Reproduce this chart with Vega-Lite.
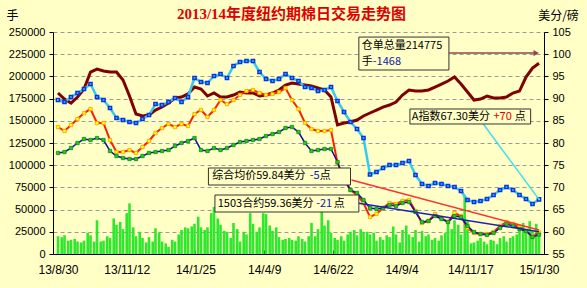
{
"$schema": "https://vega.github.io/schema/vega-lite/v6.json",
"width": 491, "height": 222,
"autosize": {"type": "none"},
"padding": {"left": 53, "top": 32, "right": 43, "bottom": 34},
"background": "#FFFFC6",
"title": {"text": "2013/14年度纽约期棉日交易走势图", "color": "#E00000", "font": "Liberation Serif, Noto Sans CJK SC", "fontWeight": "bold", "fontSize": 15, "anchor": "middle", "offset": 8, "dx": -7, "dy": 21},
"datasets": {
"w": [
{"d":"2013-08-30","wr":181300,"ai":89.68,"avg":83.60,"c":77.75},
{"d":"2013-09-06","wr":174500,"ai":89.23,"avg":82.70,"c":77.97},
{"d":"2013-09-13","wr":170000,"ai":90.36,"avg":84.05,"c":78.87},
{"d":"2013-09-20","wr":176800,"ai":91.26,"avg":85.40,"c":80.00},
{"d":"2013-09-27","wr":185800,"ai":92.16,"avg":86.75,"c":80.90},
{"d":"2013-10-04","wr":204900,"ai":93.28,"avg":87.65,"c":80.67},
{"d":"2013-10-11","wr":208300,"ai":90.36,"avg":84.50,"c":81.12},
{"d":"2013-10-18","wr":206100,"ai":89.68,"avg":84.50,"c":80.67},
{"d":"2013-10-25","wr":204900,"ai":87.88,"avg":80.67,"c":78.20},
{"d":"2013-11-01","wr":204900,"ai":85.63,"avg":77.97,"c":77.07},
{"d":"2013-11-08","wr":195900,"ai":85.18,"avg":77.97,"c":76.62},
{"d":"2013-11-15","wr":177900,"ai":84.73,"avg":78.42,"c":76.39},
{"d":"2013-11-22","wr":157600,"ai":84.50,"avg":77.75,"c":76.39},
{"d":"2013-11-29","wr":155400,"ai":85.40,"avg":79.10,"c":77.07},
{"d":"2013-12-06","wr":156500,"ai":86.30,"avg":80.45,"c":77.75},
{"d":"2013-12-13","wr":162100,"ai":88.78,"avg":82.25,"c":77.97},
{"d":"2013-12-20","wr":165500,"ai":88.55,"avg":83.38,"c":78.20},
{"d":"2013-12-27","wr":170000,"ai":89.23,"avg":84.28,"c":78.42},
{"d":"2014-01-03","wr":175700,"ai":90.13,"avg":83.60,"c":79.32},
{"d":"2014-01-10","wr":176800,"ai":89.23,"avg":84.28,"c":80.00},
{"d":"2014-01-17","wr":180200,"ai":90.36,"avg":83.83,"c":80.45},
{"d":"2014-01-24","wr":188100,"ai":94.64,"avg":86.53,"c":81.12},
{"d":"2014-01-31","wr":185800,"ai":93.73,"avg":87.43,"c":78.42},
{"d":"2014-02-07","wr":177900,"ai":93.51,"avg":85.85,"c":78.20},
{"d":"2014-02-14","wr":181300,"ai":95.09,"avg":87.43,"c":78.87},
{"d":"2014-02-21","wr":176800,"ai":95.54,"avg":89.68,"c":78.42},
{"d":"2014-02-28","wr":176800,"ai":94.64,"avg":88.78,"c":78.87},
{"d":"2014-03-07","wr":179000,"ai":97.34,"avg":89.68,"c":79.55},
{"d":"2014-03-14","wr":182400,"ai":98.24,"avg":90.81,"c":80.22},
{"d":"2014-03-21","wr":181300,"ai":98.46,"avg":91.71,"c":80.45},
{"d":"2014-03-28","wr":181300,"ai":98.46,"avg":91.93,"c":80.67},
{"d":"2014-04-04","wr":177900,"ai":95.99,"avg":91.26,"c":80.90},
{"d":"2014-04-11","wr":179000,"ai":94.41,"avg":90.81,"c":81.57},
{"d":"2014-04-18","wr":181300,"ai":93.96,"avg":91.03,"c":82.02},
{"d":"2014-04-25","wr":184700,"ai":94.41,"avg":91.48,"c":82.47},
{"d":"2014-05-02","wr":190300,"ai":95.54,"avg":92.38,"c":83.38},
{"d":"2014-05-09","wr":192500,"ai":94.64,"avg":89.68,"c":83.60},
{"d":"2014-05-16","wr":191400,"ai":93.96,"avg":87.65,"c":82.47},
{"d":"2014-05-23","wr":190300,"ai":92.61,"avg":84.50,"c":80.00},
{"d":"2014-05-30","wr":189200,"ai":92.38,"avg":83.15,"c":78.20},
{"d":"2014-06-06","wr":186900,"ai":91.71,"avg":82.70,"c":78.42},
{"d":"2014-06-13","wr":184700,"ai":91.93,"avg":82.70,"c":78.65},
{"d":"2014-06-20","wr":176800,"ai":92.61,"avg":82.92,"c":78.65},
{"d":"2014-06-27","wr":145300,"ai":89.46,"avg":75.49,"c":75.72},
{"d":"2014-07-04","wr":147500,"ai":86.98,"avg":72.12,"c":71.66},
{"d":"2014-07-11","wr":148600,"ai":84.73,"avg":69.41,"c":69.41},
{"d":"2014-07-18","wr":150900,"ai":83.15,"avg":68.29,"c":68.74},
{"d":"2014-07-25","wr":155400,"ai":81.12,"avg":66.49,"c":67.16},
{"d":"2014-08-01","wr":158800,"ai":72.90,"avg":63.33,"c":65.36},
{"d":"2014-08-08","wr":162100,"ai":73.47,"avg":64.01,"c":65.13},
{"d":"2014-08-15","wr":165500,"ai":74.37,"avg":65.36,"c":65.36},
{"d":"2014-08-22","wr":167800,"ai":75.04,"avg":66.49,"c":66.03},
{"d":"2014-08-29","wr":171100,"ai":75.04,"avg":66.26,"c":65.81},
{"d":"2014-09-05","wr":179000,"ai":75.49,"avg":66.94,"c":66.49},
{"d":"2014-09-12","wr":184700,"ai":75.94,"avg":67.16,"c":66.71},
{"d":"2014-09-19","wr":183500,"ai":72.79,"avg":64.68,"c":64.46},
{"d":"2014-09-26","wr":183500,"ai":70.76,"avg":61.98,"c":62.21},
{"d":"2014-10-03","wr":184700,"ai":70.31,"avg":62.43,"c":62.43},
{"d":"2014-10-10","wr":188000,"ai":70.99,"avg":64.01,"c":63.56},
{"d":"2014-10-17","wr":191400,"ai":70.76,"avg":63.11,"c":62.88},
{"d":"2014-10-24","wr":194800,"ai":70.31,"avg":62.21,"c":62.21},
{"d":"2014-10-31","wr":199300,"ai":70.09,"avg":64.23,"c":63.56},
{"d":"2014-11-07","wr":191400,"ai":69.19,"avg":63.56,"c":63.33},
{"d":"2014-11-14","wr":182400,"ai":67.16,"avg":60.86,"c":61.31},
{"d":"2014-11-21","wr":173400,"ai":66.71,"avg":59.73,"c":59.95},
{"d":"2014-11-28","wr":174500,"ai":66.94,"avg":59.50,"c":59.50},
{"d":"2014-12-05","wr":177900,"ai":67.39,"avg":59.50,"c":59.28},
{"d":"2014-12-12","wr":175700,"ai":68.29,"avg":59.95,"c":59.73},
{"d":"2014-12-19","wr":175700,"ai":69.41,"avg":61.31,"c":60.86},
{"d":"2014-12-26","wr":176800,"ai":70.09,"avg":62.21,"c":61.76},
{"d":"2015-01-02","wr":181300,"ai":69.41,"avg":61.76,"c":61.31},
{"d":"2015-01-09","wr":183500,"ai":68.29,"avg":61.08,"c":60.63},
{"d":"2015-01-16","wr":199300,"ai":67.39,"avg":60.18,"c":60.18},
{"d":"2015-01-23","wr":209400,"ai":66.26,"avg":59.05,"c":58.83},
{"d":"2015-01-30","wr":214775,"ai":67.30,"avg":59.84,"c":59.36}
],
"v": [
{"d":"2013-08-30","vol":20000},{"d":"2013-09-03","vol":19000},{"d":"2013-09-06","vol":21000},{"d":"2013-09-10","vol":15000},
{"d":"2013-09-13","vol":16000},{"d":"2013-09-17","vol":17000},{"d":"2013-09-20","vol":14000},{"d":"2013-09-24","vol":13000},
{"d":"2013-09-27","vol":15000},{"d":"2013-10-01","vol":24000},{"d":"2013-10-04","vol":21000},{"d":"2013-10-08","vol":14000},
{"d":"2013-10-11","vol":38000},{"d":"2013-10-15","vol":14000},{"d":"2013-10-18","vol":15000},{"d":"2013-10-22","vol":20000},
{"d":"2013-10-25","vol":18000},{"d":"2013-10-29","vol":40000},{"d":"2013-11-01","vol":33000},{"d":"2013-11-05","vol":36000},
{"d":"2013-11-08","vol":28000},{"d":"2013-11-12","vol":46000},{"d":"2013-11-15","vol":57000},{"d":"2013-11-19","vol":30000},
{"d":"2013-11-22","vol":20000},{"d":"2013-11-26","vol":25000},{"d":"2013-11-29","vol":18000},{"d":"2013-12-03","vol":13000},
{"d":"2013-12-06","vol":19000},{"d":"2013-12-10","vol":14000},{"d":"2013-12-13","vol":29000},{"d":"2013-12-17","vol":24000},
{"d":"2013-12-20","vol":14000},{"d":"2013-12-24","vol":12000},{"d":"2013-12-27","vol":8000},{"d":"2013-12-31","vol":16000},
{"d":"2014-01-03","vol":14000},{"d":"2014-01-07","vol":22000},{"d":"2014-01-10","vol":27000},{"d":"2014-01-14","vol":30000},
{"d":"2014-01-17","vol":29000},{"d":"2014-01-21","vol":31000},{"d":"2014-01-24","vol":34000},{"d":"2014-01-28","vol":42000},
{"d":"2014-01-31","vol":30000},{"d":"2014-02-04","vol":27000},{"d":"2014-02-07","vol":30000},{"d":"2014-02-11","vol":46000},
{"d":"2014-02-14","vol":53000},{"d":"2014-02-18","vol":40000},{"d":"2014-02-21","vol":33000},{"d":"2014-02-25","vol":26000},
{"d":"2014-02-28","vol":25000},{"d":"2014-03-04","vol":18000},{"d":"2014-03-07","vol":35000},{"d":"2014-03-11","vol":28000},
{"d":"2014-03-14","vol":14000},{"d":"2014-03-18","vol":25000},{"d":"2014-03-21","vol":22000},{"d":"2014-03-25","vol":46000},
{"d":"2014-03-28","vol":34000},{"d":"2014-04-01","vol":25000},{"d":"2014-04-04","vol":30000},{"d":"2014-04-08","vol":46000},
{"d":"2014-04-11","vol":45000},{"d":"2014-04-15","vol":32000},{"d":"2014-04-18","vol":26000},{"d":"2014-04-22","vol":30000},
{"d":"2014-04-25","vol":19000},{"d":"2014-04-29","vol":16000},{"d":"2014-05-02","vol":17000},{"d":"2014-05-06","vol":18000},
{"d":"2014-05-09","vol":16000},{"d":"2014-05-13","vol":15000},{"d":"2014-05-16","vol":20000},{"d":"2014-05-20","vol":17000},
{"d":"2014-05-23","vol":14000},{"d":"2014-05-27","vol":20000},{"d":"2014-05-30","vol":35000},{"d":"2014-06-03","vol":20000},
{"d":"2014-06-06","vol":28000},{"d":"2014-06-10","vol":48000},{"d":"2014-06-13","vol":32000},{"d":"2014-06-17","vol":38000},
{"d":"2014-06-20","vol":24000},{"d":"2014-06-24","vol":18000},{"d":"2014-06-27","vol":16000},{"d":"2014-07-01","vol":20000},
{"d":"2014-07-04","vol":15000},{"d":"2014-07-08","vol":22000},{"d":"2014-07-11","vol":25000},{"d":"2014-07-15","vol":27000},
{"d":"2014-07-18","vol":21000},{"d":"2014-07-22","vol":28000},{"d":"2014-07-25","vol":25000},{"d":"2014-07-29","vol":25000},
{"d":"2014-08-01","vol":22000},{"d":"2014-08-05","vol":24000},{"d":"2014-08-08","vol":15000},{"d":"2014-08-12","vol":19000},
{"d":"2014-08-15","vol":16000},{"d":"2014-08-19","vol":21000},{"d":"2014-08-22","vol":19000},{"d":"2014-08-26","vol":31000},
{"d":"2014-08-29","vol":22000},{"d":"2014-09-02","vol":13000},{"d":"2014-09-05","vol":27000},{"d":"2014-09-09","vol":32000},
{"d":"2014-09-12","vol":22000},{"d":"2014-09-16","vol":19000},{"d":"2014-09-19","vol":27000},{"d":"2014-09-23","vol":14000},
{"d":"2014-09-26","vol":26000},{"d":"2014-09-30","vol":20000},{"d":"2014-10-03","vol":22000},{"d":"2014-10-07","vol":16000},
{"d":"2014-10-10","vol":18000},{"d":"2014-10-14","vol":15000},{"d":"2014-10-17","vol":21000},{"d":"2014-10-21","vol":24000},
{"d":"2014-10-24","vol":36000},{"d":"2014-10-28","vol":28000},{"d":"2014-10-31","vol":38000},{"d":"2014-11-04","vol":33000},
{"d":"2014-11-07","vol":22000},{"d":"2014-11-11","vol":66000},{"d":"2014-11-14","vol":38000},{"d":"2014-11-18","vol":12000},
{"d":"2014-11-21","vol":13000},{"d":"2014-11-25","vol":15000},{"d":"2014-11-28","vol":18000},{"d":"2014-12-02","vol":14000},
{"d":"2014-12-05","vol":11000},{"d":"2014-12-09","vol":16000},{"d":"2014-12-12","vol":15000},{"d":"2014-12-16","vol":11000},
{"d":"2014-12-19","vol":18000},{"d":"2014-12-23","vol":20000},{"d":"2014-12-26","vol":14000},{"d":"2014-12-30","vol":18000},
{"d":"2015-01-02","vol":20000},{"d":"2015-01-06","vol":22000},{"d":"2015-01-09","vol":28000},{"d":"2015-01-13","vol":35000},
{"d":"2015-01-16","vol":24000},{"d":"2015-01-20","vol":37000},{"d":"2015-01-23","vol":26000},{"d":"2015-01-27","vol":34000},
{"d":"2015-01-30","vol":20000}
],
"box": [
{"d":"2014-07-20","d2":"2014-10-25","v":244300,"v2":207200},
{"d":"2014-09-13","d2":"2015-01-21","v":163300,"v2":146400},
{"d":"2014-02-08","d2":"2014-07-11","v":96840,"v2":77700},
{"d":"2014-02-15","d2":"2014-07-20","v":66430,"v2":47290}
],
"ann": [
{"d":"2014-07-23","v":234200,"t":"仓单总量214775","k":"n"},
{"d":"2014-07-23","v":216200,"t":"手","k":"n"},
{"d":"2014-08-04","v":216200,"t":"-1468","k":"down"},
{"d":"2014-09-15","v":154800,"t":"A指数67.30美分","k":"n"},
{"d":"2014-12-12","v":154800,"t":"+70","k":"up"},
{"d":"2015-01-04","v":154800,"t":"点","k":"n"},
{"d":"2014-02-12","v":87300,"t":"综合均价59.84美分","k":"n"},
{"d":"2014-05-28","v":87300,"t":"-5","k":"down"},
{"d":"2014-06-08","v":87300,"t":"点","k":"n"},
{"d":"2014-02-18","v":56860,"t":"1503合约59.36美分","k":"n"},
{"d":"2014-06-04","v":56860,"t":"-21","k":"down"},
{"d":"2014-06-23","v":56860,"t":"点","k":"n"}
]
},
"encoding": {
"x": {"field": "d", "type": "temporal",
 "scale": {"type": "utc", "domain": [{"year":2013,"month":8,"date":30,"utc":true},{"year":2015,"month":1,"date":30,"utc":true}]},
 "axis": {"title": null, "labelExpr": "utcFormat(datum.value, '%y/%-m/%-d')", "grid": false, "labelOverlap": false, "labelFlush": false,
  "values": [{"year":2013,"month":8,"date":30,"utc":true},{"year":2013,"month":11,"date":12,"utc":true},{"year":2014,"month":1,"date":25,"utc":true},{"year":2014,"month":4,"date":9,"utc":true},{"year":2014,"month":6,"date":22,"utc":true},{"year":2014,"month":9,"date":4,"utc":true},{"year":2014,"month":11,"date":17,"utc":true},{"year":2015,"month":1,"date":30,"utc":true}]}}
},
"layer": [
{"layer": [
 {"data": {"name": "v"}, "mark": {"type": "bar", "color": "#2EE82E", "width": 2.6, "clip": true},
  "encoding": {"y": {"field": "vol", "type": "quantitative", "scale": {"domain": [0, 250000]}, "axis": {"orient": "left", "title": "手", "values": [0,25000,50000,75000,100000,125000,150000,175000,200000,225000,250000]}}}},
 {"data": {"name": "w"}, "mark": {"type": "line", "color": "#800000", "strokeWidth": 3},
  "encoding": {"y": {"field": "wr", "type": "quantitative", "scale": {"domain": [0, 250000]}, "axis": {"orient": "left", "title": "手", "values": [0,25000,50000,75000,100000,125000,150000,175000,200000,225000,250000]}}}}
]},
{"layer": [
 {"data": {"name": "w"}, "mark": {"type": "line", "color": "#33CCEE", "strokeWidth": 2.5},
  "encoding": {"y": {"field": "ai", "type": "quantitative", "scale": {"domain": [55, 105]}, "axis": {"orient": "right", "title": "美分/磅", "values": [55,60,65,70,75,80,85,90,95,100,105]}}}},
 {"data": {"name": "w"}, "mark": {"type": "point", "shape": "square", "size": 10, "filled": false, "color": "#1030E0", "strokeWidth": 1.5, "opacity": 1},
  "encoding": {"y": {"field": "ai", "type": "quantitative", "scale": {"domain": [55, 105]}, "axis": {"orient": "right", "title": "美分/磅", "values": [55,60,65,70,75,80,85,90,95,100,105]}}}},
 {"data": {"name": "w"}, "mark": {"type": "line", "color": "#FF2000", "strokeWidth": 2},
  "encoding": {"y": {"field": "avg", "type": "quantitative", "scale": {"domain": [55, 105]}, "axis": {"orient": "right", "title": "美分/磅", "values": [55,60,65,70,75,80,85,90,95,100,105]}}}},
 {"data": {"name": "w"}, "mark": {"type": "point", "shape": "square", "size": 11, "filled": true, "fill": "#FFFF00", "stroke": "#FF9900", "strokeWidth": 0.8, "opacity": 1},
  "encoding": {"y": {"field": "avg", "type": "quantitative", "scale": {"domain": [55, 105]}, "axis": {"orient": "right", "title": "美分/磅", "values": [55,60,65,70,75,80,85,90,95,100,105]}}}},
 {"data": {"name": "w"}, "mark": {"type": "line", "color": "#1010A0", "strokeWidth": 1.5},
  "encoding": {"y": {"field": "c", "type": "quantitative", "scale": {"domain": [55, 105]}, "axis": {"orient": "right", "title": "美分/磅", "values": [55,60,65,70,75,80,85,90,95,100,105]}}}},
 {"data": {"name": "w"}, "mark": {"type": "point", "shape": "square", "size": 11, "filled": true, "fill": "#22CC22", "stroke": "#118811", "strokeWidth": 0.8, "opacity": 1},
  "encoding": {"y": {"field": "c", "type": "quantitative", "scale": {"domain": [55, 105]}, "axis": {"orient": "right", "title": "美分/磅", "values": [55,60,65,70,75,80,85,90,95,100,105]}}}},
 {"data": {"values": [{"d":"2014-07-12","d2":"2015-01-30","p":71.66,"p2":60.40}]}, "mark": {"type": "rule", "color": "#FF3030", "strokeWidth": 1.5},
  "encoding": {"x2": {"field": "d2"}, "y": {"field": "p", "type": "quantitative", "scale": {"domain": [55, 105]}, "axis": {"orient": "right", "title": "美分/磅", "values": [55,60,65,70,75,80,85,90,95,100,105]}}, "y2": {"field": "p2"}}},
 {"data": {"values": [{"d":"2014-07-20","d2":"2015-01-30","p":66.42,"p2":60.02}]}, "mark": {"type": "rule", "color": "#2020B0", "strokeWidth": 1.5},
  "encoding": {"x2": {"field": "d2"}, "y": {"field": "p", "type": "quantitative", "scale": {"domain": [55, 105]}, "axis": {"orient": "right", "title": "美分/磅", "values": [55,60,65,70,75,80,85,90,95,100,105]}}, "y2": {"field": "p2"}}},
 {"data": {"values": [{"d":"2014-12-01","d2":"2015-01-30","p":84.28,"p2":67.30}]}, "mark": {"type": "rule", "color": "#44DDEE", "strokeWidth": 1.5},
  "encoding": {"x2": {"field": "d2"}, "y": {"field": "p", "type": "quantitative", "scale": {"domain": [55, 105]}, "axis": {"orient": "right", "title": "美分/磅", "values": [55,60,65,70,75,80,85,90,95,100,105]}}, "y2": {"field": "p2"}}}
]},
{"layer": [
 {"data": {"name": "box"}, "mark": {"type": "rect", "fill": "#FFFFC6", "stroke": "#333333", "strokeWidth": 1},
  "encoding": {"x2": {"field": "d2"}, "y": {"field": "v", "type": "quantitative", "scale": {"domain": [0, 250000]}, "axis": null}, "y2": {"field": "v2"}}},
 {"data": {"values": [{"d":"2014-10-25","d2":"2015-01-27","v":226300}]}, "mark": {"type": "rule", "color": "#8B4A4A", "strokeWidth": 1.5},
  "encoding": {"x2": {"field": "d2"}, "y": {"field": "v", "type": "quantitative", "scale": {"domain": [0, 250000]}, "axis": null}}},
 {"data": {"values": [{"d":"2015-01-27","v":226300}]}, "mark": {"type": "point", "shape": "triangle-right", "size": 40, "filled": true, "color": "#8B4A4A", "opacity": 1},
  "encoding": {"y": {"field": "v", "type": "quantitative", "scale": {"domain": [0, 250000]}, "axis": null}}},
 {"data": {"name": "ann"}, "mark": {"type": "text", "align": "left", "baseline": "middle", "fontSize": 11, "font": "Noto Sans CJK SC"},
  "encoding": {"text": {"field": "t"}, "y": {"field": "v", "type": "quantitative", "scale": {"domain": [0, 250000]}, "axis": null},
   "color": {"field": "k", "type": "nominal", "scale": {"domain": ["n", "up", "down"], "range": ["#000000", "#E00000", "#1020B0"]}, "legend": null}}}
]}
],
"resolve": {"scale": {"y": "independent"}},
"config": {
 "view": {"stroke": null},
 "axis": {"domainColor": "#000000", "domainWidth": 1, "tickColor": "#000000", "labelColor": "#000000", "labelFont": "Liberation Sans", "titleFont": "Noto Sans CJK SC", "titleFontWeight": "normal", "titleColor": "#000000"},
 "axisLeft": {"labelFontSize": 11, "labelPadding": 4, "tickSize": 4, "grid": true, "gridColor": "#9A9A9A", "gridDash": [4, 3], "gridWidth": 1, "format": "d", "titleAngle": 0, "titleX": -41, "titleY": -17, "titleAlign": "center", "titleBaseline": "middle", "titleFontSize": 12},
 "axisRight": {"labelFontSize": 11, "labelPadding": 4, "tickSize": 4, "grid": false, "titleAngle": 0, "titleX": 14, "titleY": -17, "titleAlign": "center", "titleBaseline": "middle", "titleFontSize": 12},
 "axisBottom": {"labelFontSize": 12, "tickSize": -4, "labelPadding": 14}
}
}
